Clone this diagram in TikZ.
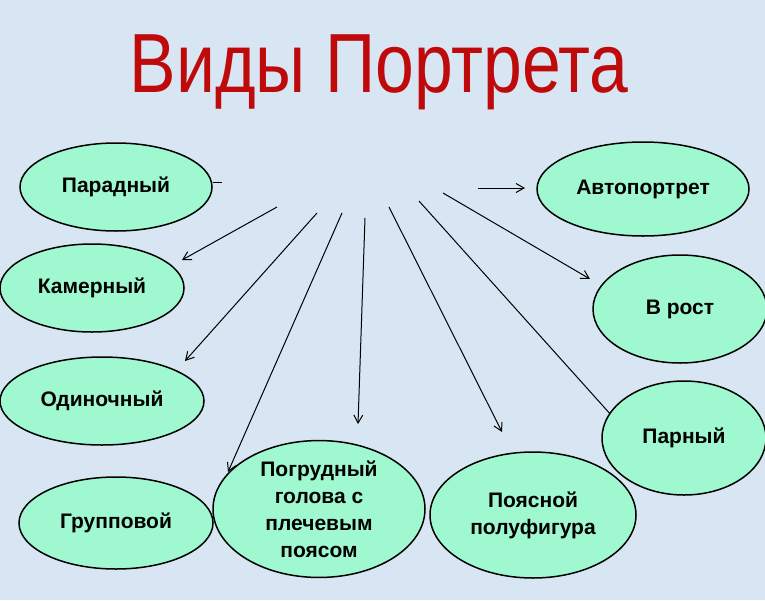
\documentclass[tikz,border=0pt]{standalone}
\usepackage{fontspec}
\setmainfont{Liberation Sans}
\newfontfamily\titlefont[FakeStretch=0.83]{Liberation Sans}
\usepackage{xcolor}
\usetikzlibrary{arrows.meta, positioning, shapes.geometric}

\definecolor{fon}{RGB}{216,230,244}
\definecolor{myata}{RGB}{160,248,208}
\definecolor{zagol}{RGB}{190,10,10}

\tikzset{
  vid/.style={draw, ellipse, fill=myata, line width=1.5pt, inner sep=0pt, align=center,
    font=\bfseries\fontsize{21}{27}\selectfont},
  strel/.style={line width=1pt, -{Straight Barb[length=8pt,width=9pt]}}
}

\begin{document}
\begin{tikzpicture}[x=1pt, y=-1pt]
  \fill[fon] (0,0) rectangle (765,600);
  \useasboundingbox (0,0) rectangle (765,600);

  \node[text=zagol, font=\titlefont\fontsize{84}{90}\selectfont] (title) at (379,72) {Виды Портрета};

  % arrows from the centre
  \foreach \s/\e in {{(277,207)}/{(182,260)}, {(317,213)}/{(185,361)}, {(342,213)}/{(228,472)},
                     {(365,218)}/{(358,424)}, {(389,207)}/{(502,432)}, {(443,193)}/{(590,279)},
                     {(478,188)}/{(525,188)}} {
    \draw[strel] \s -- \e;
  }
  \coordinate (s6) at (419,201);
  \coordinate (e6) at (612,416);
  \draw[line width=1pt] (s6) -- (e6);

  % left column
  \node[vid, minimum width=192pt, minimum height=88pt] (parad) at (116,187) {Парадный};
  \node[vid, minimum width=184pt, minimum height=88pt] (kamer) at (92,288) {Камерный};
  \node[vid, minimum width=204pt, minimum height=88pt] (odin) at (102,401) {Одиночный};
  \node[vid, minimum width=194pt, minimum height=92pt] (grupp) at (116,523) {Групповой};

  % bottom
  \node[vid, minimum width=212pt, minimum height=118pt] (pogrud) at (319,509) {Погрудный\\голова с\\плечевым\\поясом};
  \node[vid, minimum width=206pt, minimum height=126pt] (poyas) at (533,515) {Поясной\\полуфигура};

  % right column
  \node[vid, minimum width=164pt, minimum height=114pt] (parn) at (684,438) {Парный};
  \node[vid, minimum width=174pt, minimum height=108pt] (vrost) at (680,309) {В рост};
  \node[vid, minimum width=212pt, minimum height=94pt] (avto) at (643,189) {Автопортрет};

  \coordinate (stub) at (222,182);
  \draw[line width=1pt] (parad.east |- stub) -- (stub);
\end{tikzpicture}
\end{document}
